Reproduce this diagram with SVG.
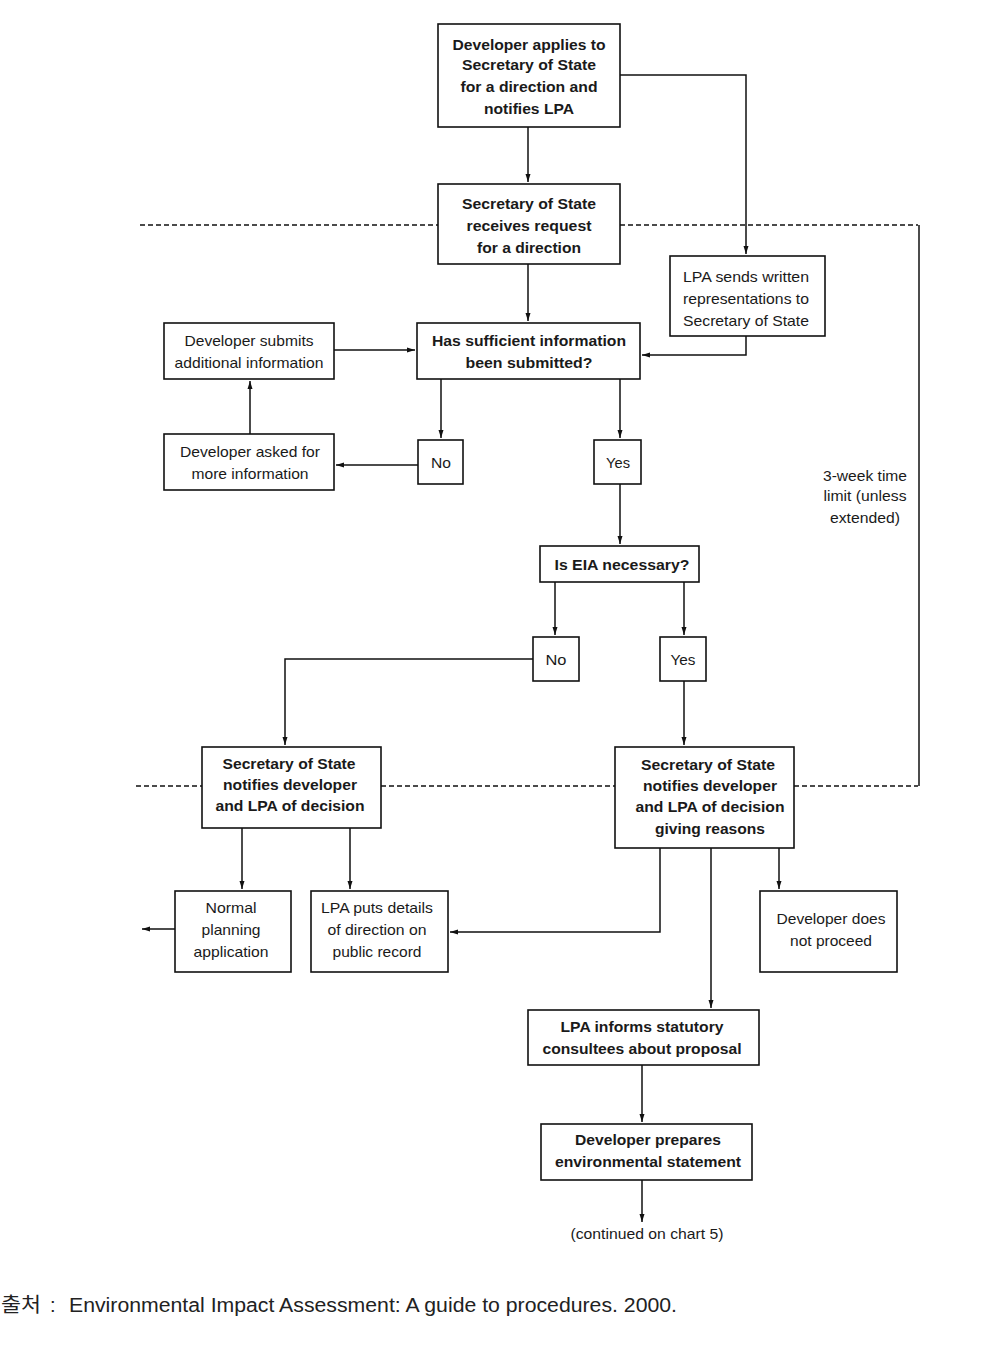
<svg xmlns="http://www.w3.org/2000/svg" width="983" height="1354" viewBox="0 0 983 1354">
<style>
.box{fill:#fff;stroke:#111;stroke-width:1.6}
.t{font-family:"Liberation Sans",Arial,sans-serif;font-size:15px;fill:#1a1a1a;text-anchor:middle}
.b{font-weight:bold}
.c{fill:none;stroke:#111;stroke-width:1.5}
.d{fill:none;stroke:#111;stroke-width:1.5;stroke-dasharray:5,3}
.f{font-family:"Liberation Sans","Noto Sans CJK KR",sans-serif;font-size:20px;fill:#222}
</style>
<defs>
<marker id="ah" markerUnits="userSpaceOnUse" markerWidth="8" markerHeight="10" refX="8" refY="4" orient="auto">
<path d="M0,1.5 L8,4 L0,6.5 Z" fill="#111"/>
</marker>
</defs>
<rect width="983" height="1354" fill="#fff"/>

<g id="dividers">
<path class="d" d="M140,225 H438 M620,225 H918"/>
<path class="d" d="M136,786 H202 M381,786 H615 M794,786 H918"/>
<path class="c" d="M919,225 V786" stroke-width="2"/>
</g>

<g id="connectors">
<path class="c" d="M528,127 V182" marker-end="url(#ah)"/>
<path class="c" d="M620,75 H746 V254" marker-end="url(#ah)"/>
<path class="c" d="M528,264 V321" marker-end="url(#ah)"/>
<path class="c" d="M746,336 V355 H642" marker-end="url(#ah)"/>
<path class="c" d="M334,350 H415" marker-end="url(#ah)"/>
<path class="c" d="M250,434 V381" marker-end="url(#ah)"/>
<path class="c" d="M441,379 V438" marker-end="url(#ah)"/>
<path class="c" d="M620,379 V438" marker-end="url(#ah)"/>
<path class="c" d="M418,465 H336" marker-end="url(#ah)"/>
<path class="c" d="M620,484 V544" marker-end="url(#ah)"/>
<path class="c" d="M555,582 V635" marker-end="url(#ah)"/>
<path class="c" d="M684,582 V635" marker-end="url(#ah)"/>
<path class="c" d="M533,659 H285 V745" marker-end="url(#ah)"/>
<path class="c" d="M684,681 V745" marker-end="url(#ah)"/>
<path class="c" d="M242,828 V889" marker-end="url(#ah)"/>
<path class="c" d="M350,828 V889" marker-end="url(#ah)"/>
<path class="c" d="M175,929 H142" marker-end="url(#ah)"/>
<path class="c" d="M660,848 V932 H450" marker-end="url(#ah)"/>
<path class="c" d="M711,848 V1008" marker-end="url(#ah)"/>
<path class="c" d="M779,848 V889" marker-end="url(#ah)"/>
<path class="c" d="M642,1065 V1122" marker-end="url(#ah)"/>
<path class="c" d="M642,1180 V1222" marker-end="url(#ah)"/>
</g>

<g id="n1">
<rect class="box" x="438" y="24" width="182" height="103"/>
<text class="t b" x="529" y="50" textLength="153" lengthAdjust="spacingAndGlyphs">Developer applies to</text>
<text class="t b" x="529" y="70" textLength="134" lengthAdjust="spacingAndGlyphs">Secretary of State</text>
<text class="t b" x="529" y="92" textLength="137" lengthAdjust="spacingAndGlyphs">for a direction and</text>
<text class="t b" x="529" y="114" textLength="90" lengthAdjust="spacingAndGlyphs">notifies LPA</text>
</g>

<g id="n2">
<rect class="box" x="438" y="184" width="182" height="80"/>
<text class="t b" x="529" y="209" textLength="134" lengthAdjust="spacingAndGlyphs">Secretary of State</text>
<text class="t b" x="529" y="231" textLength="125" lengthAdjust="spacingAndGlyphs">receives request</text>
<text class="t b" x="529" y="253" textLength="104" lengthAdjust="spacingAndGlyphs">for a direction</text>
</g>

<g id="n3">
<rect class="box" x="670" y="256" width="155" height="80"/>
<text class="t" x="746" y="282" textLength="126" lengthAdjust="spacingAndGlyphs">LPA sends written</text>
<text class="t" x="746" y="304" textLength="126" lengthAdjust="spacingAndGlyphs">representations to</text>
<text class="t" x="746" y="326" textLength="126" lengthAdjust="spacingAndGlyphs">Secretary of State</text>
</g>

<g id="n4">
<rect class="box" x="164" y="323" width="170" height="56"/>
<text class="t" x="249" y="346" textLength="129" lengthAdjust="spacingAndGlyphs">Developer submits</text>
<text class="t" x="249" y="368" textLength="149" lengthAdjust="spacingAndGlyphs">additional information</text>
</g>

<g id="n5">
<rect class="box" x="417" y="323" width="223" height="56"/>
<text class="t b" x="529" y="346" textLength="194" lengthAdjust="spacingAndGlyphs">Has sufficient information</text>
<text class="t b" x="529" y="368" textLength="127" lengthAdjust="spacingAndGlyphs">been submitted?</text>
</g>

<g id="n6">
<rect class="box" x="164" y="434" width="170" height="56"/>
<text class="t" x="250" y="457" textLength="140" lengthAdjust="spacingAndGlyphs">Developer asked for</text>
<text class="t" x="250" y="479" textLength="117" lengthAdjust="spacingAndGlyphs">more information</text>
</g>

<g id="n7">
<rect class="box" x="418" y="440" width="45" height="44"/>
<text class="t" x="441" y="468" textLength="20" lengthAdjust="spacingAndGlyphs">No</text>
</g>

<g id="n8">
<rect class="box" x="594" y="440" width="47" height="44"/>
<text class="t" x="618" y="468" textLength="24" lengthAdjust="spacingAndGlyphs">Yes</text>
</g>

<g id="n9">
<rect class="box" x="540" y="546" width="159" height="36"/>
<text class="t b" x="622" y="570" textLength="135" lengthAdjust="spacingAndGlyphs">Is EIA necessary?</text>
</g>

<g id="n10">
<rect class="box" x="533" y="637" width="46" height="44"/>
<text class="t" x="556" y="665" textLength="21" lengthAdjust="spacingAndGlyphs">No</text>
</g>

<g id="n11">
<rect class="box" x="660" y="637" width="46" height="44"/>
<text class="t" x="683" y="665" textLength="25" lengthAdjust="spacingAndGlyphs">Yes</text>
</g>

<g id="n12">
<rect class="box" x="202" y="747" width="179" height="81"/>
<text class="t b" x="289" y="769" textLength="133" lengthAdjust="spacingAndGlyphs">Secretary of State</text>
<text class="t b" x="290" y="790" textLength="134" lengthAdjust="spacingAndGlyphs">notifies developer</text>
<text class="t b" x="290" y="811" textLength="149" lengthAdjust="spacingAndGlyphs">and LPA of decision</text>
</g>

<g id="n13">
<rect class="box" x="615" y="747" width="179" height="101"/>
<text class="t b" x="708" y="770" textLength="134" lengthAdjust="spacingAndGlyphs">Secretary of State</text>
<text class="t b" x="710" y="791" textLength="134" lengthAdjust="spacingAndGlyphs">notifies developer</text>
<text class="t b" x="710" y="812" textLength="149" lengthAdjust="spacingAndGlyphs">and LPA of decision</text>
<text class="t b" x="710" y="834" textLength="110" lengthAdjust="spacingAndGlyphs">giving reasons</text>
</g>

<g id="n14">
<rect class="box" x="175" y="891" width="116" height="81"/>
<text class="t" x="231" y="913" textLength="51" lengthAdjust="spacingAndGlyphs">Normal</text>
<text class="t" x="231" y="935" textLength="59" lengthAdjust="spacingAndGlyphs">planning</text>
<text class="t" x="231" y="957" textLength="75" lengthAdjust="spacingAndGlyphs">application</text>
</g>

<g id="n15">
<rect class="box" x="311" y="891" width="137" height="81"/>
<text class="t" x="377" y="913" textLength="112" lengthAdjust="spacingAndGlyphs">LPA puts details</text>
<text class="t" x="377" y="935" textLength="99" lengthAdjust="spacingAndGlyphs">of direction on</text>
<text class="t" x="377" y="957" textLength="89" lengthAdjust="spacingAndGlyphs">public record</text>
</g>

<g id="n16">
<rect class="box" x="760" y="891" width="137" height="81"/>
<text class="t" x="831" y="924" textLength="109" lengthAdjust="spacingAndGlyphs">Developer does</text>
<text class="t" x="831" y="946" textLength="82" lengthAdjust="spacingAndGlyphs">not proceed</text>
</g>

<g id="n17">
<rect class="box" x="528" y="1010" width="231" height="55"/>
<text class="t b" x="642" y="1032" textLength="163" lengthAdjust="spacingAndGlyphs">LPA informs statutory</text>
<text class="t b" x="642" y="1054" textLength="199" lengthAdjust="spacingAndGlyphs">consultees about proposal</text>
</g>

<g id="n18">
<rect class="box" x="541" y="1124" width="211" height="56"/>
<text class="t b" x="648" y="1145" textLength="146" lengthAdjust="spacingAndGlyphs">Developer prepares</text>
<text class="t b" x="648" y="1167" textLength="186" lengthAdjust="spacingAndGlyphs">environmental statement</text>
</g>

<g id="labels">
<text class="t" x="647" y="1239" textLength="153" lengthAdjust="spacingAndGlyphs">(continued on chart 5)</text>
<text class="t" x="865" y="481" textLength="84" lengthAdjust="spacingAndGlyphs">3-week time</text>
<text class="t" x="865" y="501" textLength="83" lengthAdjust="spacingAndGlyphs">limit (unless</text>
<text class="t" x="865" y="523" textLength="70" lengthAdjust="spacingAndGlyphs">extended)</text>
<text class="f" x="1" y="1312" textLength="40" lengthAdjust="spacingAndGlyphs">출처</text>
<text class="f" x="50" y="1312">:</text>
<text class="f" x="69" y="1312" textLength="608" lengthAdjust="spacingAndGlyphs">Environmental Impact Assessment: A guide to procedures. 2000.</text>
</g>
</svg>
